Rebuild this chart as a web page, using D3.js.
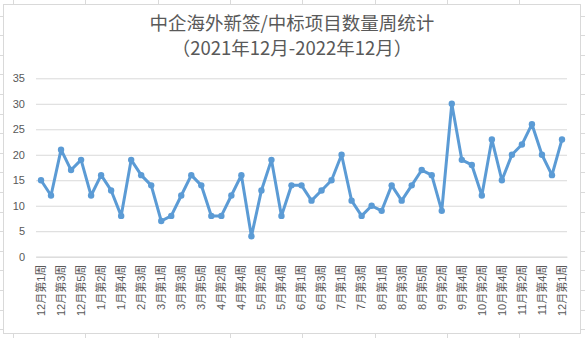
<!DOCTYPE html>
<html>
<head>
<meta charset="utf-8">
<script src="https://cdn.jsdelivr.net/npm/d3@7"></script>
<style>
  body { margin: 0; background: #fff; }
  svg { display: block; }
</style>
</head>
<body>
<div id="chart"></div>
<script>
// data
var title1 = '中企海外新签/中标项目数量周统计';
var title2 = '（2021年12月-2022年12月）';

var weeks = [
  '12月第1周', '12月第2周', '12月第3周', '12月第4周', '12月第5周',
  '1月第1周', '1月第2周', '1月第3周', '1月第4周',
  '2月第2周', '2月第3周', '2月第4周',
  '3月第1周', '3月第2周', '3月第3周', '3月第4周', '3月第5周',
  '4月第1周', '4月第2周', '4月第3周', '4月第4周',
  '5月第1周', '5月第2周', '5月第3周', '5月第4周', '5月第5周',
  '6月第1周', '6月第2周', '6月第3周', '6月第4周',
  '7月第1周', '7月第2周', '7月第3周', '7月第4周',
  '8月第1周', '8月第2周', '8月第3周', '8月第4周', '8月第5周',
  '9月第1周', '9月第2周', '9月第3周', '9月第4周',
  '10月第1周', '10月第2周', '10月第3周', '10月第4周',
  '11月第1周', '11月第2周', '11月第3周', '11月第4周', '11月第5周',
  '12月第1周'
];

var counts = [
  15, 12, 21, 17, 19, 12, 16, 13, 8, 19,
  16, 14, 7, 8, 12, 16, 14, 8, 8, 12,
  16, 4, 13, 19, 8, 14, 14, 11, 13, 15,
  20, 11, 8, 10, 9, 14, 11, 14, 17, 16,
  9, 30, 19, 18, 12, 23, 15, 20, 22, 26,
  20, 16, 23
];

var yTicks = [0, 5, 10, 15, 20, 25, 30, 35];

// declarations
var width = 585, height = 338;
var font = '"Liberation Sans", "Noto Sans CJK SC", sans-serif';
var textColor = '#595959';
var lineColor = '#5b9bd5';

var svg = d3.select('#chart').append('svg')
    .attr('width', width).attr('height', height);

// spreadsheet cells behind the chart
var sheet = svg.append('g').attr('stroke', '#dadada').attr('stroke-width', 1);
d3.range(13, width, 72.3).forEach(function(cx) {
    sheet.append('line').attr('x1', Math.round(cx) + 0.5).attr('x2', Math.round(cx) + 0.5)
        .attr('y1', 0).attr('y2', height);
});
d3.range(15.5, height, 19.6).forEach(function(cy) {
    sheet.append('line').attr('y1', Math.round(cy) + 0.5).attr('y2', Math.round(cy) + 0.5)
        .attr('x1', 0).attr('x2', width);
});

// chart box
svg.append('rect')
    .attr('x', 3.5).attr('y', 4.5)
    .attr('width', 577).attr('height', 329)
    .attr('fill', '#fff').attr('stroke', '#d9d9d9');

// scales
var x = d3.scaleBand()
    .domain(d3.range(weeks.length))
    .range([36, 567]);

var y = d3.scaleLinear()
    .domain([0, 35])
    .range([256.7, 78.3]);

// title
var title = svg.append('g')
    .attr('fill', textColor)
    .attr('font-family', '"Noto Sans CJK SC", sans-serif')
    .attr('font-size', '18.5px')
    .style('text-anchor', 'middle');
title.append('text').attr('x', 292).attr('y', 30).text(title1);
title.append('text').attr('x', 292).attr('y', 55).text(title2);

// y axis with gridlines
var yAxis = svg.append('g')
    .attr('transform', 'translate(36,0)')
    .call(d3.axisLeft(y).tickValues(yTicks).tickSize(-(567 - 36)).tickPadding(11));
yAxis.select('.domain').remove();
yAxis.selectAll('.tick line').attr('stroke', '#d9d9d9').attr('stroke-width', 1);
yAxis.selectAll('.tick text')
    .attr('fill', textColor)
    .attr('font-family', font)
    .attr('font-size', '11px');

// x axis, every second week labelled
var xAxis = svg.append('g')
    .attr('transform', 'translate(0,' + y(0) + ')')
    .call(d3.axisBottom(x)
        .tickValues(d3.range(0, weeks.length, 2))
        .tickFormat(function(i) { return weeks[i]; })
        .tickSize(0));
xAxis.select('.domain').attr('stroke', '#d9d9d9');
xAxis.selectAll('.tick text')
    .attr('fill', textColor)
    .attr('font-family', font)
    .attr('font-size', '11px')
    .attr('transform', 'rotate(-90)')
    .attr('x', -8).attr('y', 0).attr('dy', '0.35em')
    .style('text-anchor', 'end');

// the line
var line = d3.line()
    .x(function(d, i) { return x(i) + x.bandwidth() / 2; })
    .y(function(d) { return y(d); });

svg.append('path')
    .datum(counts)
    .attr('fill', 'none')
    .attr('stroke', lineColor)
    .attr('stroke-width', 3)
    .attr('stroke-linejoin', 'round')
    .attr('d', line);

// markers
svg.selectAll('circle.pt')
    .data(counts).enter().append('circle')
    .attr('class', 'pt')
    .attr('cx', function(d, i) { return x(i) + x.bandwidth() / 2; })
    .attr('cy', function(d) { return y(d); })
    .attr('r', 3.2)
    .attr('fill', lineColor);
</script>
</body>
</html>
